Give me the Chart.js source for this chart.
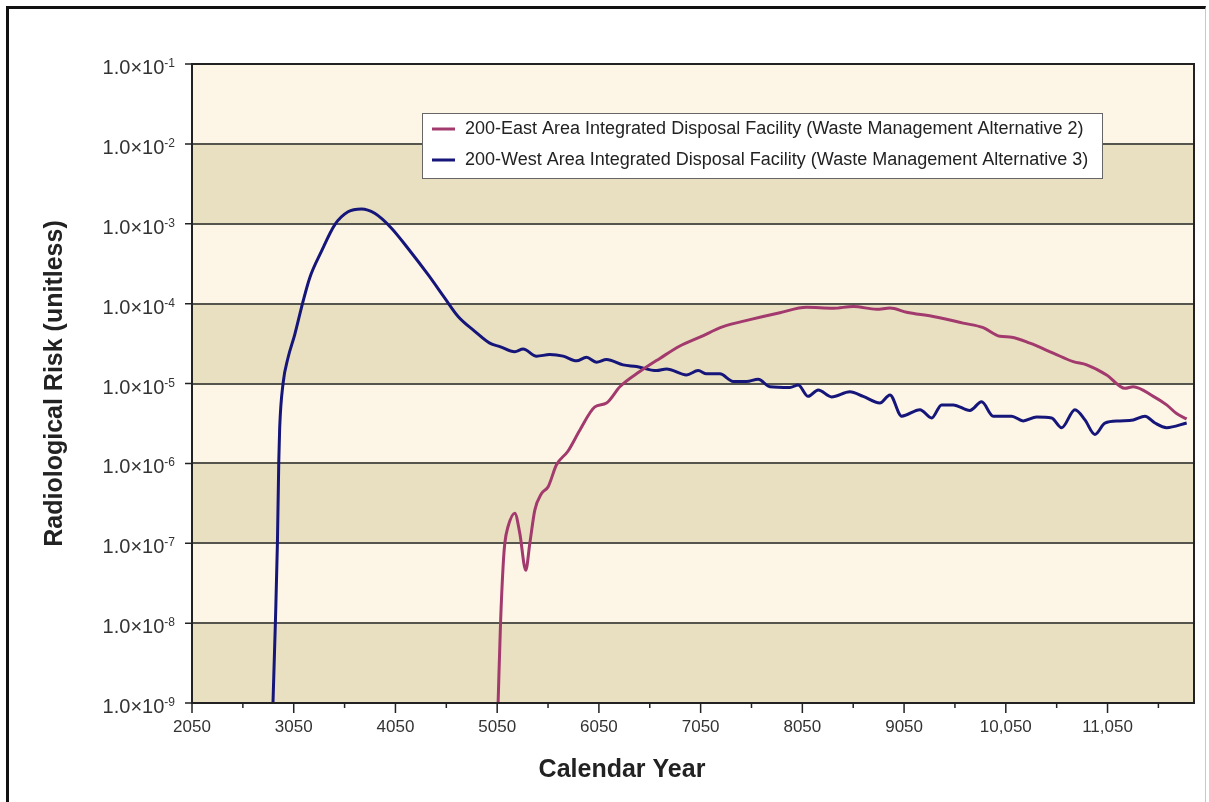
<!DOCTYPE html>
<html lang="en">
<head>
<meta charset="UTF-8">
<title>Radiological Risk by Calendar Year</title>
<script src="https://cdn.jsdelivr.net/npm/chart.js"></script>
<style>
  html, body { margin: 0; padding: 0; background: #fff; }
  #wrap { position: relative; width: 1209px; height: 802px; overflow: hidden; }
  #frame { position: absolute; left: 6px; top: 6px; width: 1196px; height: 810px;
           border-left: 3px solid #111; border-top: 3px solid #111; border-right: 1px solid #c8c8c8; }
  canvas { position: absolute; left: 0; top: 0; }
</style>
</head>
<body>
<div id="wrap">
  <div id="frame"></div>
  <canvas id="riskChart" width="1209" height="802"></canvas>
</div>
<script>
// ---- data ----
const eastLabel = '200-East Area Integrated Disposal Facility (Waste Management Alternative 2)';
const westLabel = '200-West Area Integrated Disposal Facility (Waste Management Alternative 3)';

const eastYears = [5059, 5083, 5108, 5125, 5157, 5223, 5272, 5331, 5371, 5420,
  5486, 5551, 5633, 5747, 5862, 6010, 6125, 6256, 6452, 6649,
  6846, 7042, 7271, 7534, 7829, 8091, 8353, 8550, 8780, 8911,
  9075, 9336, 9631, 9828, 9992, 10107, 10287, 10516, 10713, 10845,
  11041, 11221, 11303, 11500, 11631, 11729, 11828];
const eastRisk = [1e-9, 1.0e-8, 5.1e-8, 1.0e-7, 1.62e-7, 2.38e-7, 1.34e-7, 4.6e-8, 1.0e-7, 2.6e-7,
  4.2e-7, 5.1e-7, 9.6e-7, 1.43e-6, 2.6e-6, 5.1e-6, 5.7e-6, 9.1e-6, 1.41e-5, 2.06e-5,
  2.95e-5, 3.8e-5, 5.15e-5, 6.3e-5, 7.7e-5, 9.0e-5, 8.75e-5, 9.2e-5, 8.5e-5, 8.8e-5,
  7.8e-5, 6.9e-5, 5.7e-5, 5.0e-5, 3.9e-5, 3.8e-5, 3.2e-5, 2.4e-5, 1.88e-5, 1.71e-5,
  1.28e-5, 8.7e-6, 9.1e-6, 6.9e-6, 5.4e-6, 4.2e-6, 3.6e-6];

const westYears = [2846, 2870, 2890, 2903, 2912, 2945, 2994, 3060, 3141, 3207,
  3322, 3453, 3584, 3716, 3846, 4011, 4174, 4371, 4535, 4666,
  4830, 4977, 5076, 5223, 5305, 5437, 5567, 5698, 5830, 5928,
  6026, 6125, 6288, 6420, 6617, 6715, 6911, 7026, 7108, 7239,
  7370, 7501, 7616, 7731, 7928, 8009, 8107, 8206, 8337, 8517,
  8648, 8812, 8911, 9026, 9206, 9321, 9419, 9533, 9697, 9812,
  9926, 10107, 10221, 10353, 10500, 10599, 10730, 10828, 10926, 11024,
  11172, 11303, 11418, 11516, 11631, 11828];
const westRisk = [1e-9, 1.05e-8, 1.05e-7, 1.05e-6, 2.8e-6, 1.0e-5, 2.1e-5, 4.1e-5, 1.06e-4, 2.1e-4,
  4.5e-4, 9.7e-4, 1.41e-3, 1.53e-3, 1.35e-3, 8.8e-4, 4.9e-4, 2.3e-4, 1.17e-4, 6.9e-5,
  4.5e-5, 3.2e-5, 2.9e-5, 2.5e-5, 2.7e-5, 2.2e-5, 2.3e-5, 2.2e-5, 1.92e-5, 2.13e-5,
  1.85e-5, 2.0e-5, 1.71e-5, 1.63e-5, 1.45e-5, 1.52e-5, 1.28e-5, 1.45e-5, 1.32e-5, 1.32e-5,
  1.06e-5, 1.06e-5, 1.13e-5, 9.1e-6, 8.9e-6, 9.6e-6, 6.9e-6, 8.3e-6, 6.8e-6, 7.9e-6,
  6.9e-6, 5.7e-6, 7.2e-6, 3.9e-6, 4.7e-6, 3.7e-6, 5.4e-6, 5.4e-6, 4.6e-6, 5.9e-6,
  3.9e-6, 3.9e-6, 3.4e-6, 3.8e-6, 3.7e-6, 2.8e-6, 4.7e-6, 3.5e-6, 2.3e-6, 3.2e-6,
  3.4e-6, 3.5e-6, 3.9e-6, 3.2e-6, 2.8e-6, 3.2e-6];

// tick positions
const yTickValues = [1e-1, 1e-2, 1e-3, 1e-4, 1e-5, 1e-6, 1e-7, 1e-8, 1e-9];
const xMajorTicks = [2050, 3050, 4050, 5050, 6050, 7050, 8050, 9050, 10050, 11050];
const xMinorTicks = [2550, 3550, 4550, 5550, 6550, 7550, 8550, 9550, 10550, 11550];

const FONT = '"Liberation Sans", Arial, sans-serif';
const TEXT = '#333';

function fmtYear(v) {
  return v >= 10000 ? v.toLocaleString('en-US') : String(v);
}

// bands, frame, tick marks, y labels with superscripts, axis titles, legend box
const decor = {
  id: 'decor',
  beforeDraw(chart) {
    const { ctx, chartArea: a, scales: { y } } = chart;
    ctx.save();
    for (let i = 0; i < yTickValues.length - 1; i++) {
      const t = y.getPixelForValue(yTickValues[i]);
      const b = y.getPixelForValue(yTickValues[i + 1]);
      ctx.fillStyle = i % 2 === 0 ? '#fdf6e7' : '#e9e0c2';
      ctx.fillRect(a.left, t, a.right - a.left, b - t);
    }
    ctx.restore();
  },
  afterDraw(chart) {
    const { ctx, chartArea: a, scales: { x, y } } = chart;
    ctx.save();

    // plot frame
    ctx.strokeStyle = '#222';
    ctx.lineWidth = 2;
    ctx.strokeRect(a.left, a.top, a.right - a.left, a.bottom - a.top);

    // tick marks
    ctx.lineWidth = 1.5;
    ctx.beginPath();
    yTickValues.forEach(v => {
      const py = y.getPixelForValue(v);
      ctx.moveTo(a.left - 7, py); ctx.lineTo(a.left, py);
    });
    xMajorTicks.forEach(v => {
      const px = x.getPixelForValue(v);
      ctx.moveTo(px, a.bottom); ctx.lineTo(px, a.bottom + 10);
    });
    xMinorTicks.forEach(v => {
      const px = x.getPixelForValue(v);
      ctx.moveTo(px, a.bottom); ctx.lineTo(px, a.bottom + 5);
    });
    ctx.stroke();

    // y labels 1.0x10^n
    ctx.fillStyle = TEXT;
    ctx.textBaseline = 'alphabetic';
    yTickValues.forEach(v => {
      const py = y.getPixelForValue(v);
      const exp = String(Math.round(Math.log10(v)));
      ctx.font = '12px ' + FONT;
      const ew = ctx.measureText(exp).width;
      ctx.textAlign = 'left';
      const right = a.left - 17;
      ctx.fillText(exp, right - ew, py + 3);
      ctx.font = '20px ' + FONT;
      ctx.textAlign = 'right';
      ctx.fillText('1.0\u00d710', right - ew, py + 10);
    });

    // axis titles
    ctx.font = 'bold 25px ' + FONT;
    ctx.fillStyle = '#222';
    ctx.textAlign = 'center';
    ctx.textBaseline = 'middle';
    ctx.fillText('Calendar Year', 622, 770);
    ctx.translate(55, (a.top + a.bottom) / 2);
    ctx.rotate(-Math.PI / 2);
    ctx.fillText('Radiological Risk (unitless)', 0, 0);
    ctx.setTransform(1, 0, 0, 1, 0, 0);

    // legend
    const lx = 422, ly = 113, lw = 680, lh = 65;
    ctx.fillStyle = '#fff';
    ctx.fillRect(lx, ly, lw, lh);
    ctx.strokeStyle = '#666';
    ctx.lineWidth = 1;
    ctx.strokeRect(lx + 0.5, ly + 0.5, lw, lh);
    ctx.font = '18px ' + FONT;
    ctx.textAlign = 'left';
    ctx.textBaseline = 'middle';
    chart.data.datasets.forEach((ds, i) => {
      const cy = ly + 16 + i * 31;
      ctx.strokeStyle = ds.borderColor;
      ctx.lineWidth = 3;
      ctx.beginPath();
      ctx.moveTo(lx + 10, cy); ctx.lineTo(lx + 33, cy);
      ctx.stroke();
      ctx.fillStyle = '#222';
      ctx.fillText(ds.label, lx + 43, cy);
    });
    ctx.restore();
  }
};

const ctx = document.getElementById('riskChart').getContext('2d');
new Chart(ctx, {
  type: 'line',
  data: {
    datasets: [
      {
        label: eastLabel,
        data: eastYears.map((yr, i) => ({ x: yr, y: eastRisk[i] })),
        borderColor: '#a23a6e',
        borderWidth: 3,
        pointRadius: 0,
        cubicInterpolationMode: 'monotone'
      },
      {
        label: westLabel,
        data: westYears.map((yr, i) => ({ x: yr, y: westRisk[i] })),
        borderColor: '#15157a',
        borderWidth: 3,
        pointRadius: 0,
        cubicInterpolationMode: 'monotone'
      }
    ]
  },
  options: {
    responsive: false,
    animation: false,
    layout: { padding: { top: 64, right: 15, left: 0, bottom: 0 } },
    plugins: { legend: { display: false }, tooltip: { enabled: false } },
    scales: {
      x: {
        type: 'linear',
        min: 2050,
        max: 11900,
        afterBuildTicks: s => { s.ticks = xMajorTicks.map(v => ({ value: v })); },
        afterFit: s => { s.height = 99; },
        grid: { drawOnChartArea: false, drawTicks: false },
        border: { display: false },
        ticks: {
          autoSkip: false,
          maxRotation: 0,
          padding: 14,
          color: TEXT,
          font: { family: FONT, size: 17 },
          callback: v => fmtYear(v)
        }
      },
      y: {
        type: 'logarithmic',
        min: 1e-9,
        max: 1e-1,
        afterBuildTicks: s => { s.ticks = yTickValues.map(v => ({ value: v })); },
        afterFit: s => { s.width = 192; },
        grid: { color: '#55554d', lineWidth: 2, drawTicks: false },
        border: { display: false },
        ticks: { display: false }
      }
    }
  },
  plugins: [decor]
});
</script>
</body>
</html>
